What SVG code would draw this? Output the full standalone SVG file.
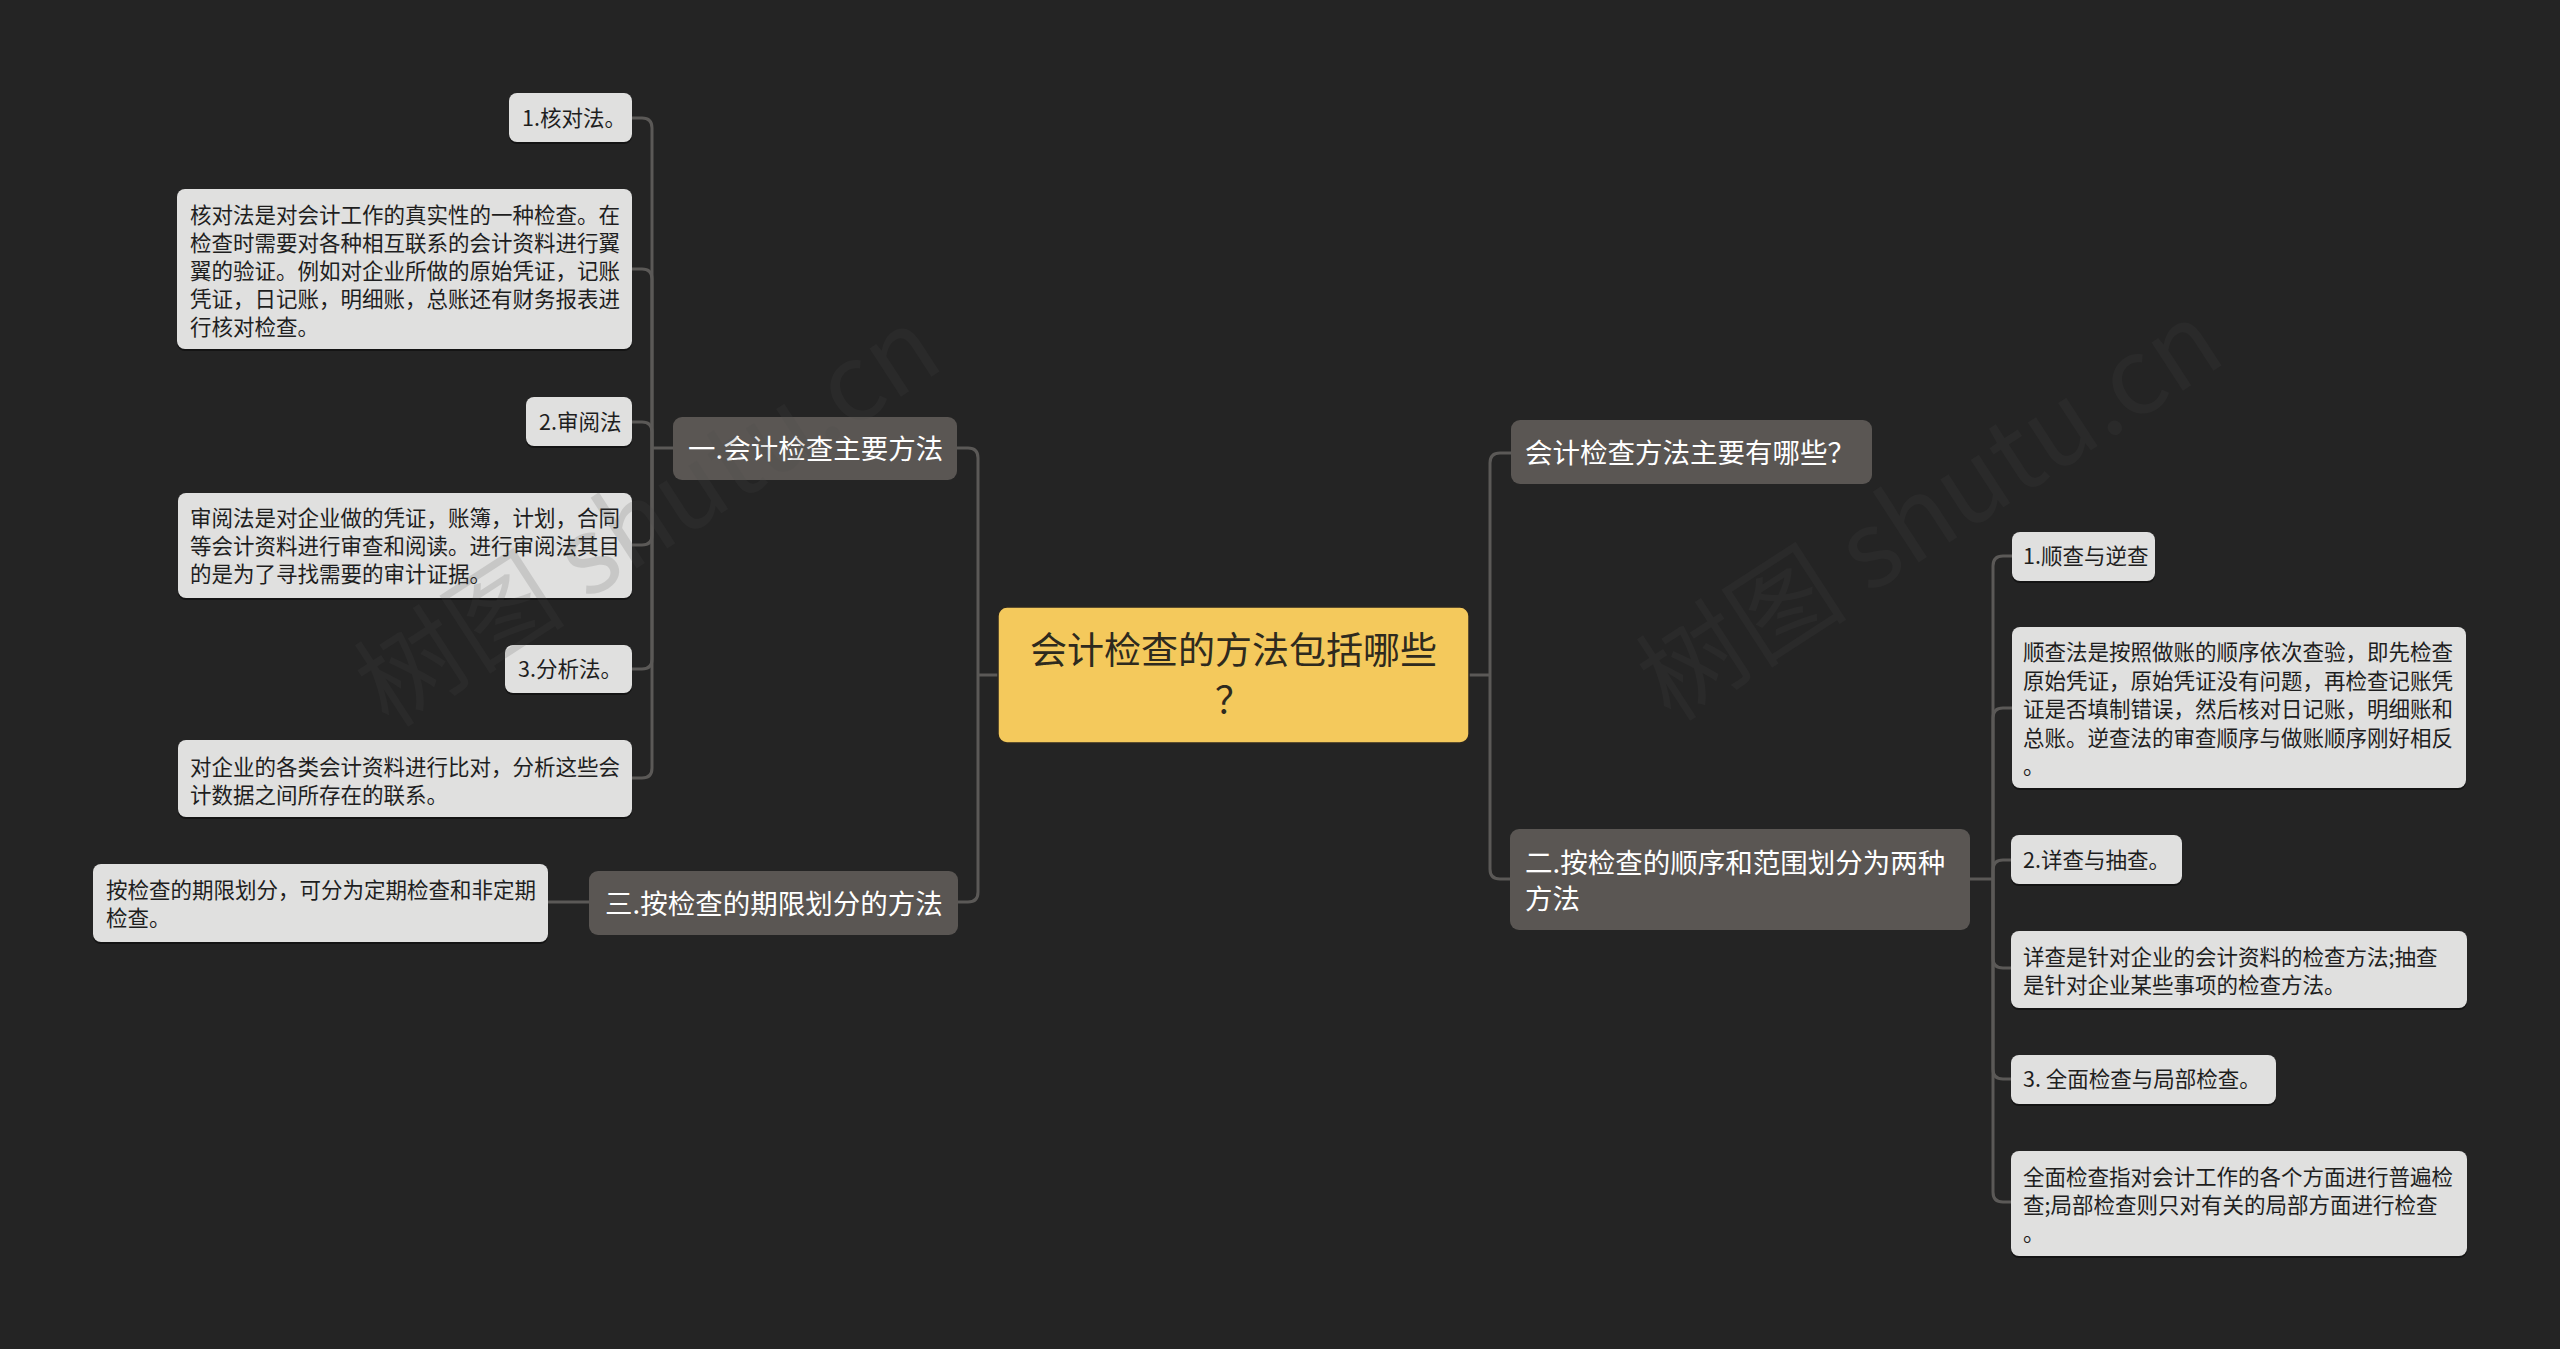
<svg xmlns="http://www.w3.org/2000/svg" width="2560" height="1349" viewBox="0 0 2560 1349">
<defs>
<style>
text{font-family:"Noto Sans CJK SC","Noto Sans",sans-serif;}
.bg{fill:#242424;}
.conn path{fill:none;stroke:#5b5957;stroke-width:3;}
.leaf rect.b{fill:#e0e0df;}
.leaf rect.s{fill:#141414;}
.leaf text{font-size:21.5px;fill:#1e1e1e;}
.l1 rect{fill:#5a5653;}
.l1 text{font-size:27.5px;fill:#ffffff;}
.root rect{fill:#f4c95c;stroke:#2a2620;stroke-width:1.5;}
.root text{font-size:37px;fill:#2e2a1e;text-anchor:middle;}
.wm{font-size:106px;fill:#4a4a4a;opacity:0.16;text-anchor:middle;}
</style>
</defs>
<rect class="bg" x="0" y="0" width="2560" height="1349"/>

<g id="connectors" class="conn">
<path d="M998,675 H978"/>
<path d="M978,675 V458 Q978,448 968,448 H957"/>
<path d="M978,675 V892 Q978,902 968,902 H958"/>
<path d="M1469,675 H1490"/>
<path d="M1490,675 V463 Q1490,453 1500,453 H1511"/>
<path d="M1490,675 V869 Q1490,879 1500,879 H1510"/>
<path d="M673,448 H652"/>
<path d="M652,448 V128 Q652,118 642,118 H632"/>
<path d="M652,448 V279 Q652,269 642,269 H632"/>
<path d="M652,448 V432 Q652,422 642,422 H632"/>
<path d="M652,448 V535 Q652,545 642,545 H632"/>
<path d="M652,448 V659 Q652,669 642,669 H632"/>
<path d="M652,448 V768 Q652,778 642,778 H632"/>
<path d="M589,902 H548"/>
<path d="M1970,879 H1993"/>
<path d="M1993,879 V566 Q1993,556 2003,556 H2012"/>
<path d="M1993,879 V718 Q1993,708 2003,708 H2012"/>
<path d="M1993,879 V870 Q1993,860 2003,860 H2011"/>
<path d="M1993,879 V958 Q1993,968 2003,968 H2011"/>
<path d="M1993,879 V1069 Q1993,1079 2003,1079 H2011"/>
<path d="M1993,879 V1192 Q1993,1202 2003,1202 H2011"/>
</g>

<g id="root" class="root">
<rect x="998" y="607" width="471" height="136" rx="9"/>
<text x="1233.5" y="664">会计检查的方法包括哪些</text>
<text x="1233.5" y="714">？</text>
</g>

<g id="n-branch1" class="l1">
<rect x="673" y="417" width="284" height="63" rx="9"/>
<text x="688" y="458.5">一.会计检查主要方法</text>
</g>
<g id="n-branch3" class="l1">
<rect x="589" y="871" width="369" height="64" rx="9"/>
<text x="605" y="913.5">三.按检查的期限划分的方法</text>
</g>
<g id="n-question" class="l1">
<rect x="1511" y="420" width="361" height="64" rx="9"/>
<text x="1525" y="462.5">会计检查方法主要有哪些？</text>
</g>
<g id="n-branch2" class="l1">
<rect x="1510" y="829" width="460" height="101" rx="9"/>
<text x="1525" y="872.5">二.按检查的顺序和范围划分为两种</text>
<text x="1525" y="908.5">方法</text>
</g>

<g id="n-l1" class="leaf">
<rect class="s" x="509" y="95" width="123" height="49" rx="8"/>
<rect class="b" x="509" y="93" width="123" height="49" rx="8"/>
<text x="522" y="126">1.核对法。</text>
</g>
<g id="n-l2" class="leaf">
<rect class="s" x="177" y="191" width="455" height="160" rx="8"/>
<rect class="b" x="177" y="189" width="455" height="160" rx="8"/>
<text x="190" y="223">核对法是对会计工作的真实性的一种检查。在</text>
<text x="190" y="251">检查时需要对各种相互联系的会计资料进行翼</text>
<text x="190" y="279">翼的验证。例如对企业所做的原始凭证，记账</text>
<text x="190" y="307">凭证，日记账，明细账，总账还有财务报表进</text>
<text x="190" y="335">行核对检查。</text>
</g>
<g id="n-l3" class="leaf">
<rect class="s" x="526" y="399" width="106" height="49" rx="8"/>
<rect class="b" x="526" y="397" width="106" height="49" rx="8"/>
<text x="539" y="430">2.审阅法</text>
</g>
<g id="n-l4" class="leaf">
<rect class="s" x="178" y="495" width="454" height="105" rx="8"/>
<rect class="b" x="178" y="493" width="454" height="105" rx="8"/>
<text x="190" y="526">审阅法是对企业做的凭证，账簿，计划，合同</text>
<text x="190" y="554">等会计资料进行审查和阅读。进行审阅法其目</text>
<text x="190" y="582">的是为了寻找需要的审计证据。</text>
</g>
<g id="n-l5" class="leaf">
<rect class="s" x="505" y="647" width="127" height="48" rx="8"/>
<rect class="b" x="505" y="645" width="127" height="48" rx="8"/>
<text x="518" y="677">3.分析法。</text>
</g>
<g id="n-l6" class="leaf">
<rect class="s" x="178" y="742" width="454" height="77" rx="8"/>
<rect class="b" x="178" y="740" width="454" height="77" rx="8"/>
<text x="190" y="775">对企业的各类会计资料进行比对，分析这些会</text>
<text x="190" y="803">计数据之间所存在的联系。</text>
</g>
<g id="n-l7" class="leaf">
<rect class="s" x="93" y="866" width="455" height="78" rx="8"/>
<rect class="b" x="93" y="864" width="455" height="78" rx="8"/>
<text x="106" y="898">按检查的期限划分，可分为定期检查和非定期</text>
<text x="106" y="926">检查。</text>
</g>

<g id="n-r1" class="leaf">
<rect class="s" x="2012" y="534" width="143" height="49" rx="8"/>
<rect class="b" x="2012" y="532" width="143" height="49" rx="8"/>
<text x="2023" y="564">1.顺查与逆查</text>
</g>
<g id="n-r2" class="leaf">
<rect class="s" x="2012" y="629" width="454" height="161" rx="8"/>
<rect class="b" x="2012" y="627" width="454" height="161" rx="8"/>
<text x="2023" y="660">顺查法是按照做账的顺序依次查验，即先检查</text>
<text x="2023" y="688.5">原始凭证，原始凭证没有问题，再检查记账凭</text>
<text x="2023" y="717">证是否填制错误，然后核对日记账，明细账和</text>
<text x="2023" y="745.5">总账。逆查法的审查顺序与做账顺序刚好相反</text>
<text x="2023" y="774">。</text>
</g>
<g id="n-r3" class="leaf">
<rect class="s" x="2011" y="837" width="171" height="49" rx="8"/>
<rect class="b" x="2011" y="835" width="171" height="49" rx="8"/>
<text x="2023" y="868">2.详查与抽查。</text>
</g>
<g id="n-r4" class="leaf">
<rect class="s" x="2011" y="933" width="456" height="77" rx="8"/>
<rect class="b" x="2011" y="931" width="456" height="77" rx="8"/>
<text x="2023" y="965">详查是针对企业的会计资料的检查方法;抽查</text>
<text x="2023" y="993">是针对企业某些事项的检查方法。</text>
</g>
<g id="n-r5" class="leaf">
<rect class="s" x="2011" y="1057" width="265" height="49" rx="8"/>
<rect class="b" x="2011" y="1055" width="265" height="49" rx="8"/>
<text x="2023" y="1087">3. 全面检查与局部检查。</text>
</g>
<g id="n-r6" class="leaf">
<rect class="s" x="2011" y="1153" width="456" height="105" rx="8"/>
<rect class="b" x="2011" y="1151" width="456" height="105" rx="8"/>
<text x="2023" y="1185">全面检查指对会计工作的各个方面进行普遍检</text>
<text x="2023" y="1213">查;局部检查则只对有关的局部方面进行检查</text>
<text x="2023" y="1241">。</text>
</g>

<g id="watermarks">
<text class="wm" transform="translate(668,548) rotate(-33)">树图 shutu.cn</text>
<text class="wm" transform="translate(1950,542) rotate(-33)">树图 shutu.cn</text>
</g>
</svg>
